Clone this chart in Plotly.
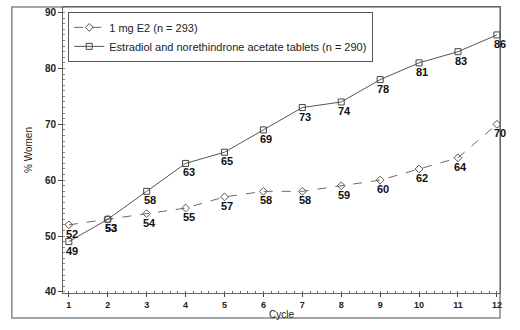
import plotly.graph_objects as go

cycles = [1, 2, 3, 4, 5, 6, 7, 8, 9, 10, 11, 12]
e2_pct = [52, 53, 54, 55, 57, 58, 58, 59, 60, 62, 64, 70]
eneta_pct = [49, 53, 58, 63, 65, 69, 73, 74, 78, 81, 83, 86]
series_names = ["1 mg E2 (n = 293)",
                "Estradiol and norethindrone acetate tablets (n = 290)"]

FONT = "Liberation Sans, Arial, sans-serif"

fig = go.Figure()

fig.add_trace(go.Scatter(
    x=cycles, y=e2_pct, name=series_names[0],
    mode="lines+markers",
    line=dict(color="#6a6a6a", width=1, dash="dash"),
    marker=dict(symbol="diamond-open", size=6, color="#555555",
                line=dict(width=1)),
    cliponaxis=False,
))

fig.add_trace(go.Scatter(
    x=cycles, y=eneta_pct, name=series_names[1],
    mode="lines+markers",
    line=dict(color="#555555", width=1),
    marker=dict(symbol="square-open", size=6, color="#444444",
                line=dict(width=1)),
    cliponaxis=False,
))

# value labels just below each point
for series in (e2_pct, eneta_pct):
    for cx, v in zip(cycles, series):
        fig.add_annotation(
            x=cx, y=v, text=str(v), showarrow=False,
            xanchor="center", yanchor="top", xshift=3, yshift=-1,
            font=dict(family=FONT, size=11, color="#111111", weight="bold"),
        )

# outer frame around the whole chart
fig.add_shape(type="rect", xref="paper", yref="paper",
              x0=-0.117, x1=1.0, y0=-0.087, y1=1.0,
              line=dict(color="#888888", width=1.5), layer="below")

fig.update_layout(
    width=520, height=330,
    margin=dict(l=63, r=20, t=7, b=37),
    paper_bgcolor="white", plot_bgcolor="white",
    font=dict(family=FONT, color="#222222"),
    showlegend=True,
    legend=dict(x=0.012, y=0.983, xanchor="left", yanchor="top",
                bgcolor="white", bordercolor="#555555", borderwidth=1,
                font=dict(size=11, color="#222222"),
                tracegroupgap=0, itemwidth=30),
)

fig.update_xaxes(
    range=[0.85, 12.08], tickvals=cycles, ticks="outside", ticklen=3,
    tickfont=dict(size=9, color="#222222", weight="bold"),
    showgrid=False, zeroline=False,
    showline=True, linecolor="#666666", linewidth=1, mirror=True,
    minor=dict(dtick=0.2, ticks="inside", ticklen=2, tickcolor="#666666"),
    title=dict(text="Cycle", font=dict(size=10, color="#222222"), standoff=2),
)

fig.update_yaxes(
    range=[39.8, 91], tickvals=[40, 50, 60, 70, 80, 90], ticks="outside",
    ticklen=4, tickfont=dict(size=10, color="#222222", weight="bold"),
    showgrid=False, zeroline=False,
    showline=True, linecolor="#666666", linewidth=1, mirror=True,
    minor=dict(dtick=1, ticks="inside", ticklen=2, tickcolor="#888888"),
    title=dict(text="% Women", font=dict(size=10, color="#222222"), standoff=10),
)

fig.write_html("out.html")
